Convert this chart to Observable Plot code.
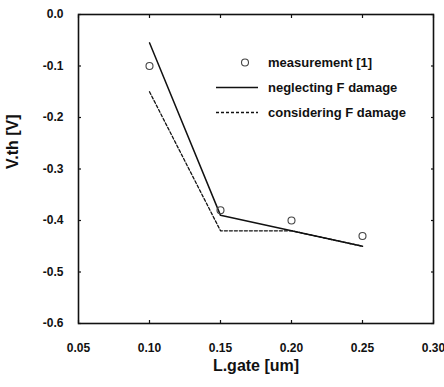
<!DOCTYPE html>
<html><head><meta charset="utf-8">
<script src="https://cdn.jsdelivr.net/npm/d3@7"></script>
<script src="https://cdn.jsdelivr.net/npm/@observablehq/plot@0.6"></script>
<style>
body{margin:0;background:#fff;}
#wrap{position:relative;width:444px;height:387px;font-family:"Liberation Sans",Arial,sans-serif;font-weight:bold;color:#111;}
#legend{position:absolute;left:212px;top:50px;font-size:13px;line-height:25px;}
#legend .row{display:flex;align-items:center;height:25px;}
#legend svg{width:50px;height:25px;margin-right:6px;}
</style></head><body><div id="wrap"><div id="legend"></div></div><script>
const measX = [0.10, 0.15, 0.20, 0.25];
const measY = [-0.10, -0.38, -0.40, -0.43];
const neglX = [0.10, 0.15, 0.20, 0.25];
const neglY = [-0.055, -0.39, -0.42, -0.45];
const consX = [0.10, 0.15, 0.20, 0.25];
const consY = [-0.15, -0.42, -0.42, -0.45];
const xTicks = [0.05, 0.10, 0.15, 0.20, 0.25, 0.30];
const yTicks = [0.0, -0.1, -0.2, -0.3, -0.4, -0.5, -0.6];
const xLabel = "L.gate [um]";
const yLabel = "V.th [V]";
const seriesNames = ["measurement [1]", "neglecting F damage", "considering F damage"];

const meas = measX.map((x, i) => ({x, y: measY[i]}));
const negl = neglX.map((x, i) => ({x, y: neglY[i]}));
const cons = consX.map((x, i) => ({x, y: consY[i]}));

const chart = Plot.plot({
  width: 444, height: 387,
  marginLeft: 78, marginRight: 11, marginTop: 14, marginBottom: 64,
  style: {fontFamily: '"Liberation Sans", Arial, sans-serif', fontWeight: "bold", fontSize: "12px", color: "#111", background: "#fff"},
  x: {domain: [0.05, 0.30]},
  y: {domain: [-0.6, 0]},
  marks: [
    Plot.axisX(xTicks, {anchor: "bottom", tickSize: 0, tickPadding: 20, tickFormat: d => d.toFixed(2), label: null, fontSize: 12}),
    Plot.axisY(yTicks, {anchor: "left", tickSize: 0, tickPadding: 15, tickFormat: d => d.toFixed(1), label: null, fontSize: 12}),
    Plot.axisX(xTicks, {anchor: "bottom", tickSize: -3, fill: "none", label: null, strokeWidth: 1.2}),
    Plot.axisX(xTicks, {anchor: "top", tickSize: -3, fill: "none", label: null, strokeWidth: 1.2}),
    Plot.axisY(yTicks, {anchor: "left", tickSize: -3, fill: "none", label: null, strokeWidth: 1.2}),
    Plot.axisY(yTicks, {anchor: "right", tickSize: -3, fill: "none", label: null, strokeWidth: 1.2}),
    Plot.frame({stroke: "#111", strokeWidth: 1.6}),
    Plot.line(negl, {x: "x", y: "y", stroke: "#111", strokeWidth: 1.5}),
    Plot.line(cons, {x: "x", y: "y", stroke: "#111", strokeWidth: 1.3, strokeDasharray: "3,2"}),
    Plot.dot(meas, {x: "x", y: "y", r: 3.5, stroke: "#444", strokeWidth: 1.1, fill: "none"}),
    Plot.text([xLabel], {frameAnchor: "bottom", lineAnchor: "middle", dy: 42, fontSize: 16, fontWeight: "bold", fill: "#111"}),
    Plot.text([yLabel], {frameAnchor: "left", lineAnchor: "middle", dx: -66, rotate: -90, fontSize: 16, fontWeight: "bold", fill: "#111"})
  ]
});
document.getElementById("wrap").prepend(chart);

const legend = document.getElementById("legend");
const swatches = [
  '<svg viewBox="0 0 50 25"><circle cx="33" cy="12.5" r="3.5" fill="none" stroke="#444" stroke-width="1.1"/></svg>',
  '<svg viewBox="0 0 50 25"><line x1="4" x2="46" y1="12.5" y2="12.5" stroke="#111" stroke-width="1.5"/></svg>',
  '<svg viewBox="0 0 50 25"><line x1="4" x2="46" y1="12.5" y2="12.5" stroke="#111" stroke-width="1.3" stroke-dasharray="3,2"/></svg>'
];
seriesNames.forEach((name, i) => {
  const row = document.createElement("div");
  row.className = "row";
  row.innerHTML = swatches[i] + "<span>" + name + "</span>";
  legend.appendChild(row);
});
</script></body></html>
